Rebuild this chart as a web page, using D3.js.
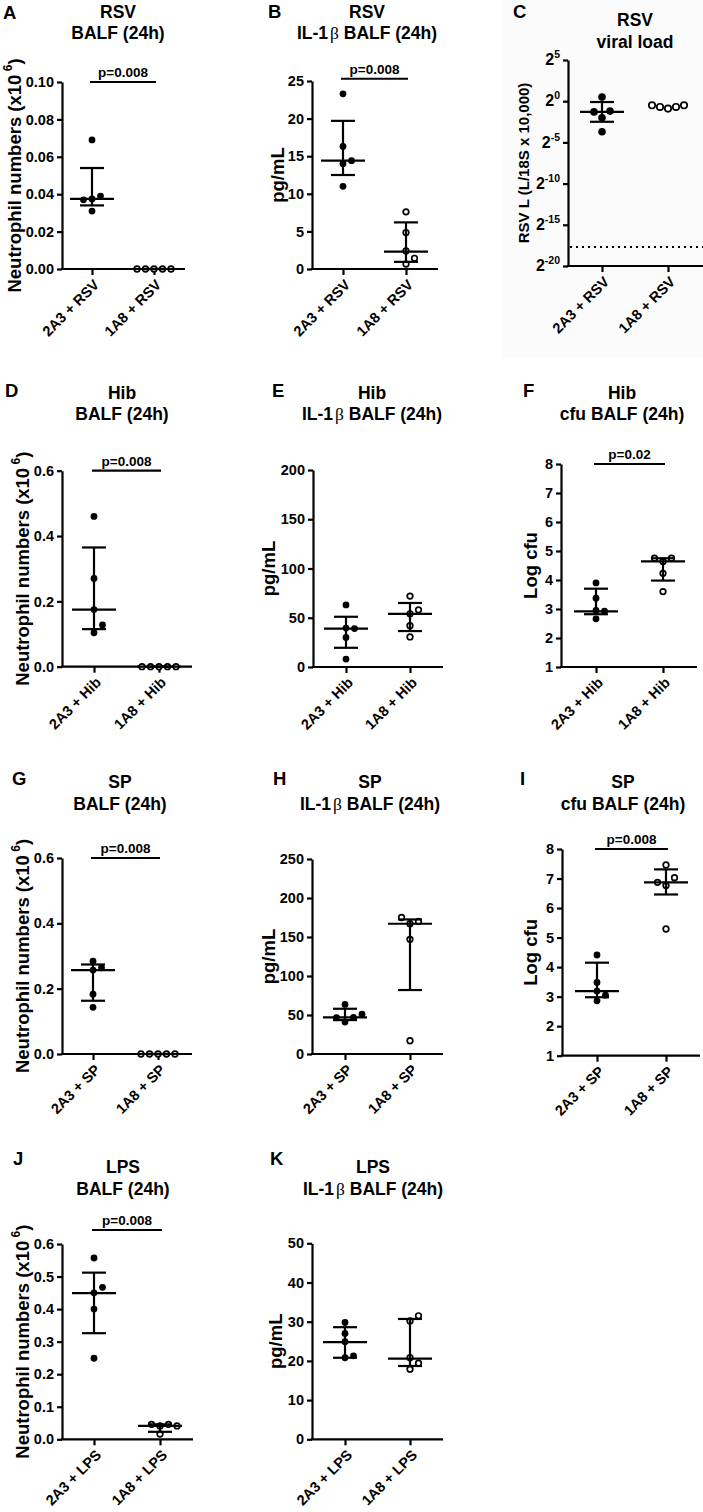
<!DOCTYPE html>
<html><head><meta charset="utf-8">
<script src="https://cdn.jsdelivr.net/npm/d3@7"></script>
<style>
body{margin:0;background:#fff}
svg{display:block}
text{font-family:"Liberation Sans",Arial,Helvetica,sans-serif;font-weight:bold;fill:#000}
</style>
</head><body>
<svg id="chart" width="703" height="1512"></svg>
<script>
// ---------------- DATA ----------------
const catsRSV = ["2A3 + RSV", "1A8 + RSV"];
const catsHib = ["2A3 + Hib", "1A8 + Hib"];
const catsSP  = ["2A3 + SP", "1A8 + SP"];
const catsLPS = ["2A3 + LPS", "1A8 + LPS"];

// A: RSV neutrophils (x10^6)
const ticksA = [0, 0.02, 0.04, 0.06, 0.08, 0.10];
const a2A3 = [0.069, 0.031, 0.0375, 0.039, 0.037];
const a1A8 = [0, 0, 0, 0, 0];
const medA = [0.0375, 0], q1A = [0.034, 0], q3A = [0.054, 0];

// B: RSV IL-1b pg/mL
const ticksB = [0, 5, 10, 15, 20, 25];
const b2A3 = [23.3, 16.3, 14.0, 14.4, 11.0];
const b1A8 = [7.6, 4.85, 2.4, 0.65, 1.42];
const medB = [14.4, 2.3], q1B = [12.5, 0.95], q3B = [19.7, 6.2];

// C: RSV viral load (L/18S x 10,000), log2 axis
const ticksC = [Math.pow(2,-20), Math.pow(2,-15), Math.pow(2,-10), Math.pow(2,-5), 1, 32];
const c2A3 = [1.414, 0.25, 0.435, 0.406, 0.077];
const c1A8 = [0.536, 0.616, 0.616, 0.707, 0.707];
const medC = [0.406, null], q1C = [0.177, null], q3C = [0.933, null];
const detectionLimitC = 4.7e-6;

// D: Hib neutrophils
const ticksD = [0, 0.2, 0.4, 0.6];
const d2A3 = [0.46, 0.27, 0.175, 0.104, 0.128];
const d1A8 = [0, 0, 0, 0, 0];
const medD = [0.175, 0], q1D = [0.115, 0], q3D = [0.365, 0];

// E: Hib IL-1b
const ticksE = [0, 50, 100, 150, 200];
const e2A3 = [63, 39.5, 39, 30, 8];
const e1A8 = [72, 54, 58, 42, 30.5];
const medE = [39, 54], q1E = [19.5, 36.5], q3E = [51, 65];

// F: Hib log cfu
const ticksF = [1, 2, 3, 4, 5, 6, 7, 8];
const f2A3 = [3.9, 3.37, 2.95, 2.93, 2.66];
const f1A8 = [4.64, 4.75, 4.75, 4.23, 3.6];
const medF = [2.92, 4.64], q1F = [2.82, 3.98], q3F = [3.7, 4.75];

// G: SP neutrophils
const ticksG = [0, 0.2, 0.4, 0.6];
const g2A3 = [0.284, 0.257, 0.264, 0.183, 0.143];
const g1A8 = [0, 0, 0, 0, 0];
const medG = [0.257, 0], q1G = [0.163, 0], q3G = [0.274, 0];

// H: SP IL-1b
const ticksH = [0, 50, 100, 150, 200, 250];
const h2A3 = [63.5, 41, 47, 46.5, 51];
const h1A8 = [167, 170, 175, 147, 17];
const medH = [47, 167], q1H = [43.5, 82], q3H = [58, 172.5];

// I: SP log cfu
const ticksI = [1, 2, 3, 4, 5, 6, 7, 8];
const i2A3 = [4.41, 3.48, 2.86, 3.05, 3.19];
const i1A8 = [7.46, 6.76, 7.03, 6.87, 5.29];
const medI = [3.19, 6.87], q1I = [2.98, 6.46], q3I = [4.15, 7.31];

// J: LPS neutrophils
const ticksJ = [0, 0.1, 0.2, 0.3, 0.4, 0.5, 0.6];
const j2A3 = [0.557, 0.45, 0.467, 0.40, 0.249];
const j1A8 = [0.016, 0.041, 0.046, 0.046, 0.041];
const medJ = [0.449, 0.041], q1J = [0.326, 0.023], q3J = [0.512, 0.046];

// K: LPS IL-1b
const ticksK = [0, 10, 20, 30, 40, 50];
const k2A3 = [29.8, 27.0, 24.9, 20.8, 21.3];
const k1A8 = [30.2, 31.5, 20.8, 19.4, 17.9];
const medK = [24.8, 20.6], q1K = [20.8, 18.7], q3K = [28.6, 30.7];

const pLabels = ["p=0.008", "p=0.008", null, "p=0.008", null, "p=0.02", "p=0.008", null, "p=0.008", "p=0.008", null];
const pLevels = [0.1, 25.3, null, 0.6, null, 8, 0.6, null, 8, 0.643, null];

// ---------------- DRAWING ----------------
const svg = d3.select("#chart");
const NEUT = "Neutrophil numbers";

// faint background of panel C image
svg.append("rect").attr("x", 503).attr("y", 0).attr("width", 200).attr("height", 357).attr("fill", "#fbfbfb");

function swarm(vals, y, thr) {
  const placed = [];
  const cands = [0, 1, -1, 2, -2, 3, -3];
  return vals.map(v => {
    const py = y(v);
    for (const k of cands) {
      if (!placed.some(p => p.k === k && Math.abs(p.py - py) < thr)) {
        placed.push({k, py});
        return {v, py, k};
      }
    }
    return {v, py, k: 0};
  });
}

function drawPanel(L, D) {
  const g = svg.append("g");
  const y = (D.log ? d3.scaleLog().base(2) : d3.scaleLinear()).domain(D.domain).range([L.yBot, L.yTop]);
  const x = d3.scalePoint().domain(D.cats).range(L.cats);

  // panel letter
  g.append("text").attr("x", L.letter[0]).attr("y", L.letter[1]).attr("font-size", 18.5).text(D.letter);

  // title lines
  D.title.forEach((line, i) => {
    const t = g.append("text").attr("x", L.tx).attr("y", L.ty[i]).attr("text-anchor", "middle").attr("font-size", 17.5);
    const parts = line.split("β");
    parts.forEach((p, j) => {
      if (j > 0) t.append("tspan").attr("font-family", '"Liberation Serif","DejaVu Serif",serif').attr("font-weight", "normal").attr("dx", 2).text("β");
      t.append("tspan").text(p);
    });
  });

  // y axis
  const ya = d3.axisLeft(y).tickValues(D.ticks).tickSizeInner(5).tickSizeOuter(0).tickPadding(3);
  if (D.fmt) ya.tickFormat(D.fmt);
  const gy = g.append("g").attr("transform", `translate(${L.ax},0)`).call(ya);
  gy.attr("font-family", null).attr("font-size", 14.5);
  gy.selectAll("line,path").attr("stroke", "#000").attr("stroke-width", 2.2);
  gy.selectAll(".tick text").attr("fill", "#000");
  if (D.log) {
    gy.selectAll(".tick text").each(function(d) {
      const e = Math.round(Math.log2(d));
      const s = d3.select(this);
      s.text(null);
      s.append("tspan").attr("font-size", 16).text("2");
      s.append("tspan").attr("dy", -7).attr("font-size", 10.5).text(e);
    });
  }

  // x axis
  const xa = d3.axisBottom(x).tickSizeInner(6).tickSizeOuter(0).tickPadding(0);
  const gx = g.append("g").attr("transform", `translate(0,${L.yBot})`).call(xa);
  gx.attr("font-family", null).attr("font-size", 14.5);
  gx.select(".domain").remove();
  gx.selectAll("line").attr("stroke", "#000").attr("stroke-width", 2.2);
  gx.selectAll(".tick text").attr("fill", "#000").attr("text-anchor", "end")
    .attr("transform", "translate(4,13) rotate(-45)").attr("y", 0).attr("dy", "0.35em");
  g.append("line").attr("x1", L.ax - 1.1).attr("x2", L.xEnd).attr("y1", L.yBot).attr("y2", L.yBot)
    .attr("stroke", "#000").attr("stroke-width", 2.2);

  // detection limit
  if (D.limit != null) {
    g.append("line").attr("x1", L.ax + 2).attr("x2", L.xEnd).attr("y1", y(D.limit)).attr("y2", y(D.limit))
      .attr("stroke", "#000").attr("stroke-width", 2).attr("stroke-dasharray", "2,4");
  }

  // points
  const R = L.r || 3.4;
  [D.g1, D.g2].forEach((vals, gi) => {
    const cx = x(D.cats[gi]);
    const pts = swarm(vals, y, 8);
    g.append("g").selectAll("circle").data(pts).join("circle")
      .attr("cx", p => cx + p.k * (L.s || 8.5)).attr("cy", p => p.py)
      .attr("r", gi === 0 ? R : R - 0.6)
      .attr("fill", gi === 0 ? "#000" : "#fff")
      .attr("stroke", gi === 0 ? "none" : "#000").attr("stroke-width", 1.7);
  });

  // median + IQR
  D.med.forEach((m, gi) => {
    if (m == null) return;
    const cx = x(D.cats[gi]);
    const ls = g.append("g").attr("stroke", "#000").attr("stroke-width", 2.2);
    ls.append("line").attr("x1", cx - 22).attr("x2", cx + 22).attr("y1", y(m)).attr("y2", y(m));
    ls.append("line").attr("x1", cx).attr("x2", cx).attr("y1", y(D.q1[gi])).attr("y2", y(D.q3[gi]));
    [D.q1[gi], D.q3[gi]].forEach(q => {
      ls.append("line").attr("x1", cx - 12).attr("x2", cx + 12).attr("y1", y(q)).attr("y2", y(q));
    });
  });

  // p value
  if (D.p) {
    const yy = y(D.pLevel);
    const x1 = x(D.cats[0]) - 2, x2 = x(D.cats[1]) + 2;
    g.append("line").attr("x1", x1).attr("x2", x2).attr("y1", yy).attr("y2", yy).attr("stroke", "#000").attr("stroke-width", 2.2);
    g.append("text").attr("x", (x1 + x2) / 2).attr("y", yy - 5).attr("text-anchor", "middle").attr("font-size", 13.5).text(D.p);
  }

  // y label
  const yl = g.append("text")
    .attr("transform", `translate(${L.ylx},${(L.yTop + L.yBot) / 2}) rotate(-90)`)
    .attr("text-anchor", "middle").attr("dominant-baseline", "central")
    .attr("font-size", D.ylSize || 18.5);
  if (D.ylab === NEUT) {
    yl.append("tspan").text("Neutrophil numbers (x10");
    yl.append("tspan").attr("dy", -6).attr("font-size", 12).text(" 6");
    yl.append("tspan").attr("dy", 6).text(")");
  } else {
    yl.text(D.ylab);
  }
}

const f2 = d3.format(".2f"), f1 = d3.format(".1f"), f0 = d3.format("d");

drawPanel({ax:62, yTop:82, yBot:269, xEnd:185, cats:[92,154], tx:118, ty:[17.5,39], letter:[3,19], ylx:14},
  {letter:"A", title:["RSV","BALF (24h)"], cats:catsRSV, domain:[0,0.1], ticks:ticksA, fmt:f2,
   g1:a2A3, g2:a1A8, med:medA, q1:q1A, q3:q3A, p:pLabels[0], pLevel:pLevels[0], ylab:NEUT});

drawPanel({ax:312, yTop:81, yBot:269, xEnd:438, cats:[343,406], tx:367, ty:[17.5,39], letter:[268,18], ylx:277},
  {letter:"B", title:["RSV","IL-1β BALF (24h)"], cats:catsRSV, domain:[0,25], ticks:ticksB, fmt:f0,
   g1:b2A3, g2:b1A8, med:medB, q1:q1B, q3:q3B, p:pLabels[1], pLevel:pLevels[1], ylab:"pg/mL"});

drawPanel({ax:568, yTop:60, yBot:266, xEnd:703, cats:[602,668], tx:635, ty:[26,48], letter:[513,18], ylx:523, r:3.8, s:8},
  {letter:"C", title:["RSV","viral load"], cats:catsRSV, domain:[Math.pow(2,-20),32], log:true, ticks:ticksC,
   g1:c2A3, g2:c1A8, med:medC, q1:q1C, q3:q3C, p:pLabels[2], limit:detectionLimitC,
   ylab:"RSV L (L/18S x 10,000)", ylSize:15});

drawPanel({ax:62, yTop:470.7, yBot:666.7, xEnd:192, cats:[94,159], tx:122, ty:[399,420], letter:[5,397], ylx:22},
  {letter:"D", title:["Hib","BALF (24h)"], cats:catsHib, domain:[0,0.6], ticks:ticksD, fmt:f1,
   g1:d2A3, g2:d1A8, med:medD, q1:q1D, q3:q3D, p:pLabels[3], pLevel:pLevels[3], ylab:NEUT});

drawPanel({ax:313, yTop:470, yBot:667, xEnd:443, cats:[346,410], tx:372, ty:[399,420], letter:[272,397], ylx:268},
  {letter:"E", title:["Hib","IL-1β BALF (24h)"], cats:catsHib, domain:[0,200], ticks:ticksE, fmt:f0,
   g1:e2A3, g2:e1A8, med:medE, q1:q1E, q3:q3E, p:pLabels[4], ylab:"pg/mL"});

drawPanel({ax:561, yTop:464, yBot:667, xEnd:697, cats:[596,663], tx:622, ty:[399,420], letter:[523,397], ylx:530},
  {letter:"F", title:["Hib","cfu BALF (24h)"], cats:catsHib, domain:[1,8], ticks:ticksF, fmt:f0,
   g1:f2A3, g2:f1A8, med:medF, q1:q1F, q3:q3F, p:pLabels[5], pLevel:pLevels[5], ylab:"Log cfu"});

drawPanel({ax:62, yTop:858, yBot:1054, xEnd:192, cats:[93,158], tx:120, ty:[788,810], letter:[12,785], ylx:22},
  {letter:"G", title:["SP","BALF (24h)"], cats:catsSP, domain:[0,0.6], ticks:ticksG, fmt:f1,
   g1:g2A3, g2:g1A8, med:medG, q1:q1G, q3:q3G, p:pLabels[6], pLevel:pLevels[6], ylab:NEUT});

drawPanel({ax:312, yTop:859, yBot:1054, xEnd:443, cats:[345,410], tx:370, ty:[788,810], letter:[273,785], ylx:268},
  {letter:"H", title:["SP","IL-1β BALF (24h)"], cats:catsSP, domain:[0,250], ticks:ticksH, fmt:f0,
   g1:h2A3, g2:h1A8, med:medH, q1:q1H, q3:q3H, p:pLabels[7], ylab:"pg/mL"});

drawPanel({ax:562, yTop:849, yBot:1055.7, xEnd:700, cats:[597,666], tx:623, ty:[788,810], letter:[520,785], ylx:530},
  {letter:"I", title:["SP","cfu BALF (24h)"], cats:catsSP, domain:[1,8], ticks:ticksI, fmt:f0,
   g1:i2A3, g2:i1A8, med:medI, q1:q1I, q3:q3I, p:pLabels[8], pLevel:pLevels[8], ylab:"Log cfu"});

drawPanel({ax:62, yTop:1244, yBot:1439.3, xEnd:193, cats:[94,160], tx:123, ty:[1173,1195], letter:[13,1165], ylx:22},
  {letter:"J", title:["LPS","BALF (24h)"], cats:catsLPS, domain:[0,0.6], ticks:ticksJ, fmt:f1,
   g1:j2A3, g2:j1A8, med:medJ, q1:q1J, q3:q3J, p:pLabels[9], pLevel:pLevels[9], ylab:NEUT});

drawPanel({ax:312, yTop:1243.3, yBot:1439.3, xEnd:443, cats:[345,410], tx:373, ty:[1173,1195], letter:[270,1165], ylx:275},
  {letter:"K", title:["LPS","IL-1β BALF (24h)"], cats:catsLPS, domain:[0,50], ticks:ticksK, fmt:f0,
   g1:k2A3, g2:k1A8, med:medK, q1:q1K, q3:q3K, p:pLabels[10], ylab:"pg/mL"});
</script>
</body></html>
